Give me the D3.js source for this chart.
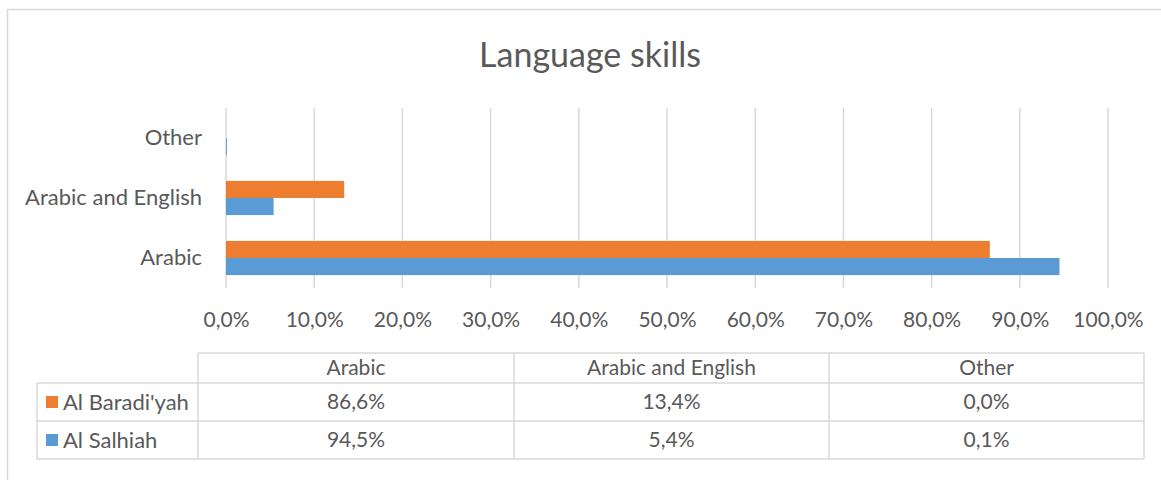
<!DOCTYPE html>
<html>
<head>
<meta charset="utf-8">
<title>Language skills</title>
<script src="https://d3js.org/d3.v7.min.js"></script>
<style>
  body { margin: 0; background: #fff; }
  svg text { font-family: Lato, 'Open Sans', sans-serif; fill: #595959; }
</style>
</head>
<body>
<div id="chart"></div>
<script>
// data
var categories = ["Arabic", "Arabic and English", "Other"];
var seriesNames = ["Al Baradi'yah", "Al Salhiah"];
var baradiyah = [0.866, 0.134, 0.000];
var salhiah = [0.945, 0.054, 0.001];
var xTicks = [0, 0.1, 0.2, 0.3, 0.4, 0.5, 0.6, 0.7, 0.8, 0.9, 1.0];
var colors = ["#ED7D31", "#5B9BD5"];

var series = [baradiyah, salhiah];

var W = 1161, H = 480;
var svg = d3.select("#chart").append("svg")
  .attr("width", W).attr("height", H);

svg.append("rect").attr("width", W).attr("height", H).attr("fill", "#fff");
// outer chart frame
svg.append("rect")
  .attr("x", 7.5).attr("y", 9.5)
  .attr("width", W + 20).attr("height", H + 20)
  .attr("fill", "none").attr("stroke", "#D9D9D9").attr("stroke-width", 1.5);

svg.append("text")
  .attr("x", 590).attr("y", 55)
  .attr("dy", "0.35em")
  .attr("text-anchor", "middle")
  .style("font-size", "34px")
  .text("Language skills");

var comma = d3.formatLocale({decimal: ",", thousands: ".", grouping: [3], currency: ["", ""]});
var pct = comma.format(".1%");

var x = d3.scaleLinear().domain([0, 1]).range([226, 1108]);
var y = d3.scaleBand()
  .domain(categories.slice().reverse())
  .range([108, 288])
  .paddingInner(0.43).paddingOuter(0.215);
var ySub = d3.scaleBand().domain(seriesNames).range([0, y.bandwidth()]);

// gridlines
svg.append("g").selectAll("line")
  .data(xTicks).enter().append("line")
  .attr("x1", d => x(d)).attr("x2", d => x(d))
  .attr("y1", 108).attr("y2", 288)
  .attr("stroke", "#D9D9D9").attr("stroke-width", 1.5);

// bars
var groups = svg.append("g").selectAll("g")
  .data(categories).enter().append("g")
  .attr("transform", d => "translate(0," + y(d) + ")");

groups.selectAll("rect")
  .data((c, i) => seriesNames.map((s, j) => ({s: s, v: series[j][i], j: j})))
  .enter().append("rect")
  .attr("x", x(0))
  .attr("y", d => ySub(d.s))
  .attr("width", d => x(d.v) - x(0))
  .attr("height", ySub.bandwidth())
  .attr("fill", d => colors[d.j]);

// x axis labels
var xAxis = d3.axisBottom(x).tickValues(xTicks).tickFormat(pct).tickSize(0).tickPadding(0);
var gx = svg.append("g").attr("transform", "translate(0,320)").call(xAxis);
gx.select(".domain").remove();
gx.selectAll("text").style("font-size", "21px").attr("y", 0).attr("dy", "0.35em").attr("fill", "#595959");

// category labels
var yAxis = d3.axisLeft(y).tickSize(0).tickPadding(0);
var gy = svg.append("g").attr("transform", "translate(202,0)").call(yAxis);
gy.select(".domain").remove();
gy.selectAll("text").style("font-size", "22px").attr("fill", "#595959");

// data table
var colX = [198, 514, 829, 1144];
var rowY = [353, 383, 421, 459];
var labelX = 37;
var tbl = svg.append("g");
var lineColor = "#D9D9D9";

function hline(x1, x2, yy) {
  tbl.append("line").attr("x1", x1).attr("x2", x2).attr("y1", yy).attr("y2", yy)
    .attr("stroke", lineColor).attr("stroke-width", 1.5);
}
function vline(xx, y1, y2) {
  tbl.append("line").attr("x1", xx).attr("x2", xx).attr("y1", y1).attr("y2", y2)
    .attr("stroke", lineColor).attr("stroke-width", 1.5);
}
hline(colX[0], colX[3], rowY[0]);
hline(labelX, colX[3], rowY[1]);
hline(labelX, colX[3], rowY[2]);
hline(labelX, colX[3], rowY[3]);
colX.forEach(cx => vline(cx, rowY[0], rowY[3]));
vline(labelX, rowY[1], rowY[3]);

tbl.selectAll("text.hdr")
  .data(categories).enter().append("text")
  .attr("class", "hdr")
  .attr("x", (d, i) => (colX[i] + colX[i + 1]) / 2)
  .attr("y", (rowY[0] + rowY[1]) / 2)
  .attr("dy", "0.35em")
  .attr("text-anchor", "middle")
  .style("font-size", "21px")
  .text(d => d);

seriesNames.forEach(function (s, j) {
  var cy = (rowY[j + 1] + rowY[j + 2]) / 2;
  tbl.append("rect")
    .attr("x", 46).attr("y", cy - 6).attr("width", 12).attr("height", 12)
    .attr("fill", colors[j]);
  tbl.append("text")
    .attr("x", 63).attr("y", cy).attr("dy", "0.35em")
    .style("font-size", "22px")
    .text(s);
  tbl.selectAll("text.v" + j)
    .data(series[j]).enter().append("text")
    .attr("class", "v" + j)
    .attr("x", (d, i) => (colX[i] + colX[i + 1]) / 2)
    .attr("y", cy).attr("dy", "0.35em")
    .attr("text-anchor", "middle")
    .style("font-size", "21px")
    .text(d => pct(d));
});
</script>
</body>
</html>
